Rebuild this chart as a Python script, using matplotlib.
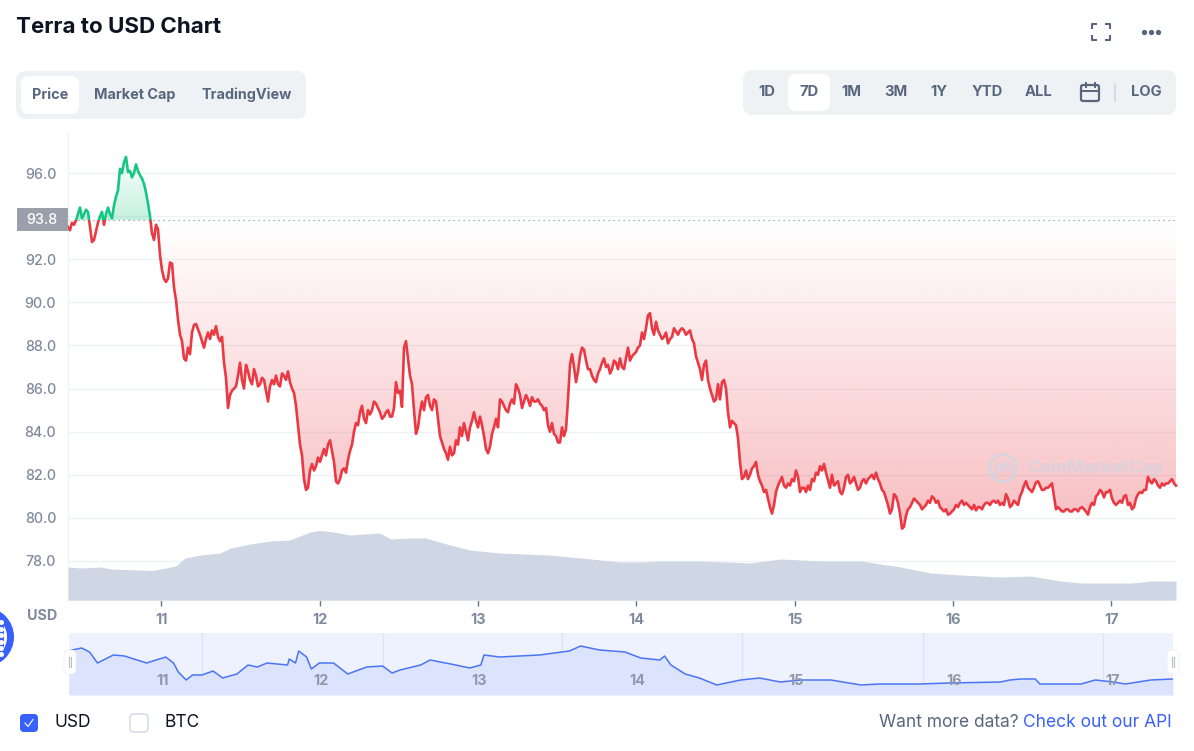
import matplotlib
matplotlib.use('Agg')
import matplotlib.pyplot as plt
import numpy as np
from matplotlib.patches import Circle, FancyBboxPatch, Rectangle

plt.rcParams['font.family'] = ['Inter', 'DejaVu Sans']

# Price, one value about every 18 minutes
price_vals = [
    93.5, 93.35, 93.7, 93.6, 93.8, 94.1, 94.4, 93.9, 94.1, 94.3, 94.2, 93.5, 92.8, 92.9, 93.3, 93.7, 94.0, 94.2, 93.6, 94.1,
    94.4, 94.1, 93.9, 94.5, 94.9, 95.2, 96.2, 96.0, 96.5, 96.75, 96.05, 96.1, 95.8, 96.0, 96.4, 96.1, 95.9, 95.75, 95.5, 95.1,
    94.6, 94.0, 93.2, 92.9, 93.6, 93.4, 92.2, 91.5, 91.1, 90.95, 91.1, 91.85, 91.8, 90.7, 90.1, 89.2, 88.5, 88.2, 87.4, 87.3,
    87.9, 87.6, 88.6, 88.95, 89.0, 88.75, 88.5, 88.2, 87.9, 88.3, 88.6, 88.3, 88.7, 88.5, 88.9, 88.4, 88.2, 88.4, 87.2, 86.5,
    85.1, 85.7, 85.9, 86.0, 86.1, 86.6, 87.2, 86.4, 86.0, 87.1, 86.8, 86.4, 86.2, 86.9, 86.6, 86.1, 86.2, 86.5, 86.4, 85.9,
    85.4, 86.1, 86.4, 86.2, 86.6, 86.2, 86.1, 86.7, 86.6, 86.4, 86.8, 86.3, 86.0, 85.8, 85.2, 84.3, 83.4, 82.9, 81.8, 81.3,
    81.4, 82.2, 82.5, 82.2, 82.4, 82.8, 82.6, 82.9, 83.2, 82.9, 83.4, 83.6, 83.1, 82.6, 81.7, 81.6, 81.8, 82.2, 82.3, 82.1,
    82.7, 83.1, 83.4, 84.0, 84.4, 84.3, 84.9, 85.2, 84.6, 84.4, 85.0, 84.8, 85.0, 85.4, 85.3, 85.1, 84.9, 84.6, 84.7, 84.9,
    85.0, 84.7, 84.7, 85.1, 86.3, 85.8, 85.9, 85.15, 87.9, 88.2, 87.4, 86.6, 86.2, 85.0, 83.9, 84.2, 84.9, 85.4, 85.0, 85.6,
    85.7, 85.2, 85.0, 85.5, 85.4, 84.6, 83.8, 83.5, 83.2, 83.0, 82.7, 83.3, 82.9, 83.0, 83.6, 83.4, 84.2, 83.8, 84.4, 84.0,
    83.6, 84.2, 84.5, 84.9, 84.5, 84.2, 84.7, 84.3, 83.8, 83.2, 83.0, 83.3, 83.9, 84.2, 84.6, 84.2, 85.5, 85.4, 85.2, 85.0,
    84.9, 85.3, 85.5, 85.3, 86.2, 86.0, 85.7, 85.1, 85.4, 85.7, 85.5, 85.2, 85.6, 85.4, 85.4, 85.5, 85.3, 85.2, 85.0, 85.1,
    84.3, 84.0, 84.4, 83.9, 83.8, 83.5, 83.5, 84.2, 83.8, 84.1, 85.5, 87.1, 87.6, 87.0, 86.3, 86.8, 87.5, 87.9, 87.8, 87.3,
    86.9, 86.9, 86.6, 86.4, 86.3, 86.7, 86.9, 87.2, 87.4, 87.0, 87.1, 86.7, 86.9, 87.3, 87.2, 86.9, 87.4, 87.0, 86.9, 87.4,
    87.9, 87.3, 87.5, 87.6, 87.7, 87.9, 88.0, 88.6, 88.3, 88.8, 89.4, 89.5, 88.8, 88.5, 89.1, 88.7, 88.5, 88.3, 88.4, 88.6,
    88.1, 88.3, 88.4, 88.8, 88.65, 88.5, 88.7, 88.8, 88.7, 88.5, 88.6, 88.7, 88.3, 88.1, 87.5, 87.2, 86.9, 86.4, 87.1, 87.3,
    86.4, 86.0, 85.7, 85.4, 85.5, 86.2, 85.5, 86.3, 86.4, 86.0, 84.9, 84.2, 84.5, 84.4, 84.3, 83.7, 82.6, 81.8, 81.9, 82.2,
    81.8, 82.0, 82.3, 82.4, 82.6, 82.0, 81.7, 81.5, 81.2, 81.3, 80.9, 80.5, 80.2, 80.6, 81.2, 81.5, 81.7, 81.9, 81.5, 81.4,
    81.6, 81.5, 81.8, 81.7, 82.2, 81.9, 81.2, 81.4, 81.4, 81.2, 81.5, 81.3, 81.8, 81.7, 82.1, 82.0, 82.4, 82.2, 82.5, 82.1,
    81.75, 81.4, 82.0, 81.5, 81.6, 81.7, 81.2, 81.1, 81.4, 81.9, 82.0, 81.6, 81.7, 81.9, 81.6, 81.3, 81.4, 81.7, 81.8, 81.6,
    81.8, 81.9, 82.0, 81.8, 82.1, 81.8, 81.6, 81.3, 81.2, 80.9, 80.6, 80.2, 80.4, 81.1, 81.0, 80.7, 80.2, 79.5, 79.6, 80.1,
    80.4, 80.5, 80.7, 80.9, 80.8, 80.7, 80.6, 80.4, 80.5, 80.6, 80.8, 80.7, 81.0, 80.9, 80.7, 80.8, 80.5, 80.4, 80.3, 80.4,
    80.15, 80.2, 80.3, 80.4, 80.6, 80.5, 80.7, 80.8, 80.6, 80.7, 80.6, 80.5, 80.4, 80.6, 80.35, 80.5, 80.5, 80.4, 80.6, 80.7,
    80.7, 80.6, 80.75, 80.8, 80.7, 80.8, 80.6, 80.7, 80.6, 81.1, 80.9, 80.5, 80.6, 80.8, 80.7, 80.6, 81.0, 81.2, 81.5, 81.7,
    81.4, 81.3, 81.2, 81.4, 81.65, 81.7, 81.5, 81.3, 81.3, 81.4, 81.4, 81.5, 81.6, 81.0, 80.4, 80.5, 80.4, 80.3, 80.3, 80.4,
    80.4, 80.3, 80.3, 80.4, 80.4, 80.3, 80.45, 80.5, 80.4, 80.3, 80.15, 80.5, 80.7, 80.6, 81.0, 81.1, 81.3, 81.2, 80.95, 81.2,
    81.2, 81.3, 80.9, 80.7, 80.6, 80.7, 80.8, 80.7, 81.0, 81.05, 80.6, 80.7, 80.4, 80.5, 80.9, 81.1, 81.2, 81.15, 81.3, 81.3,
    81.9, 81.7, 81.6, 81.8, 81.7, 81.5, 81.4, 81.6, 81.5, 81.6, 81.6, 81.7, 81.8, 81.6, 81.5,
]
base_price = 93.82

# Volume area (relative height)
vol_days = [10.41, 10.49, 10.62, 10.68, 10.87, 10.94, 11.03, 11.09, 11.15, 11.25,
            11.37, 11.44, 11.56, 11.69, 11.81, 11.94, 12.0, 12.09, 12.19, 12.38,
            12.45, 12.57, 12.67, 12.8, 12.95, 13.14, 13.45, 13.65, 13.9, 14.03,
            14.15, 14.4, 14.72, 14.91, 15.17, 15.42, 15.67, 15.86, 16.05, 16.3,
            16.49, 16.68, 16.81, 17.13, 17.25, 17.41]
vol_vals = [3.3, 3.2, 3.3, 3.1, 3.0, 2.95, 3.2, 3.4, 4.2, 4.5,
            4.7, 5.2, 5.6, 5.9, 6.0, 6.8, 6.95, 6.8, 6.5, 6.7,
            6.1, 6.2, 6.2, 5.6, 5.0, 4.7, 4.5, 4.2, 3.8, 3.8,
            3.9, 3.9, 3.7, 4.1, 3.9, 3.9, 3.3, 2.7, 2.5, 2.3,
            2.4, 1.9, 1.7, 1.7, 1.9, 1.9]

# Overview strip under the chart
mini_days = [10.42, 10.44, 10.50, 10.55, 10.60, 10.70, 10.77, 10.91, 11.03, 11.08, 11.11,
             11.16, 11.20, 11.26, 11.33, 11.39, 11.48, 11.55, 11.61, 11.67, 11.80,
             11.81, 11.85, 11.87, 11.92, 11.95, 12.00, 12.09, 12.18, 12.30, 12.40,
             12.46, 12.51, 12.64, 12.70, 12.83, 12.95, 13.02, 13.04, 13.14, 13.39,
             13.58, 13.65, 13.77, 13.93, 14.03, 14.15, 14.18, 14.22, 14.31, 14.40,
             14.51, 14.66, 14.78, 14.91, 15.04, 15.23, 15.42, 15.54, 15.79, 15.98,
             16.30, 16.36, 16.43, 16.52, 16.55, 16.81, 16.90, 17.01, 17.09, 17.25,
             17.39]
mini_vals = [44, 45, 47, 43, 32, 40, 39, 32, 38, 32, 23,
             15, 20, 20, 24, 17, 21, 30, 28, 32, 30,
             36, 32, 44, 38, 26, 32, 32, 21, 28, 29,
             22, 25, 30, 35, 31, 27, 30, 40, 38, 40,
             44, 49, 45, 43, 37, 35, 39, 30, 21, 17,
             10, 15, 17, 13, 15, 15, 10, 11, 11, 12,
             13, 15, 16, 16, 11, 11, 15, 13, 11, 15,
             16]

y_ticks = [78, 80, 82, 84, 86, 88, 90, 92, 94, 96]
y_labels = ['78.0', '80.0', '82.0', '84.0', '86.0', '88.0', '90.0', '92.0', '', '96.0']
day_ticks = [11, 12, 13, 14, 15, 16, 17]
range_buttons = ['1D', '7D', '1M', '3M', '1Y', 'YTD', 'ALL']
range_x = [767, 809, 851, 896, 939, 987, 1039]

RED = '#ea3943'
GREEN = '#16c784'
GRAY = '#808a9d'
SLATE = '#58667e'
BLUE = '#3861fb'
PILL = '#eff2f5'
GRID = '#eff2f5'

W, H = 1194, 751
X0, X1 = 10.41, 17.41
days = np.linspace(X0, X1, len(price_vals))
prices = np.array(price_vals)


def pos(x0, y0, x1, y1):
    return [x0 / W, (H - y1) / H, (x1 - x0) / W, (y1 - y0) / H]


def pill(ax, x0, y0, x1, y1, color, r=9, **kw):
    p = FancyBboxPatch((x0 + r, y0 + r), x1 - x0 - 2 * r, y1 - y0 - 2 * r,
                       boxstyle='round,pad=%d,rounding_size=%d' % (r, r),
                       facecolor=color, edgecolor=kw.pop('edgecolor', 'none'), **kw)
    ax.add_patch(p)


fig = plt.figure(figsize=(W / 100, H / 100), dpi=100)

# page furniture in pixel coordinates
ui = fig.add_axes([0, 0, 1, 1], zorder=0)
ui.set_xlim(0, W)
ui.set_ylim(H, 0)
ui.axis('off')

ui.text(16, 27, 'Terra to USD Chart', fontsize=16.1, fontweight='bold', color='#0d1421', va='center')

pill(ui, 16, 71, 306, 119, PILL, r=10)
pill(ui, 21, 76, 79, 114, 'white', r=8)
ui.text(50, 95, 'Price', fontsize=10.4, fontweight='bold', color=SLATE, ha='center', va='center')
ui.text(135, 95, 'Market Cap', fontsize=10.4, fontweight='bold', color=SLATE, ha='center', va='center')
ui.text(246.5, 95, 'TradingView', fontsize=10.4, fontweight='bold', color=SLATE, ha='center', va='center')

pill(ui, 743, 70, 1176, 115, PILL, r=10)
pill(ui, 788, 74, 830, 111, 'white', r=8)
for label, x in zip(range_buttons, range_x):
    ui.text(x, 92.5, label, fontsize=10.6, fontweight='bold', color=SLATE, ha='center', va='center')
ui.text(1146, 91.5, 'LOG', fontsize=10.6, fontweight='bold', color=SLATE, ha='center', va='center')
ui.plot([1115, 1115], [84, 101], color='#cfd6e4', lw=1.2)

# calendar icon
pill(ui, 1081, 85, 1099, 101, 'none', r=2, edgecolor=SLATE, linewidth=1.6)
ui.plot([1081, 1099], [90.5, 90.5], color=SLATE, lw=1.4)
ui.plot([1085.5, 1085.5], [83, 87], color=SLATE, lw=1.4)
ui.plot([1094.5, 1094.5], [83, 87], color=SLATE, lw=1.4)

# fullscreen icon and menu dots
for sx, sy in [(1092, 24), (1110, 24), (1092, 40), (1110, 40)]:
    dx = 4 if sx < 1100 else -4
    dy = 4 if sy < 30 else -4
    ui.plot([sx + dx, sx, sx], [sy, sy, sy + dy], color=SLATE, lw=1.5)
ui.plot([1143.5, 1150.5, 1157.5], [32, 32, 32], ls='none', marker='o', ms=2.8, color=SLATE)

# tag, y unit
ui.add_patch(Rectangle((17, 208), 51, 23, facecolor='#9a9fab', edgecolor='none'))
ui.text(42, 219.5, '93.8', fontsize=10.3, fontweight='medium', color='white', ha='center', va='center')
ui.text(42, 616.5, 'USD', fontsize=10.3, fontweight='bold', color=GRAY, ha='center', va='center')

# round logo cut off by the page edge
ui.add_patch(Circle((-16, 637), 30, facecolor=BLUE, edgecolor='none'))
ui.add_patch(Circle((-16, 637), 23, facecolor='white', edgecolor='none'))
ui.add_patch(Rectangle((-3, 618), 6.5, 38, facecolor=BLUE, edgecolor='none'))
ui.plot([0.5] * 6, [622, 628.5, 635, 641.5, 648, 654], ls='none', marker='o', ms=2.6, color='white')

# legend and API link
pill(ui, 20, 714, 38, 732, BLUE, r=4)
ui.plot([25, 28, 33], [723, 726.5, 719.5], color='white', lw=0.8)
ui.text(55, 722.5, 'USD', fontsize=12.5, color='#0d1421', va='center')
pill(ui, 130, 714, 148, 732, 'white', r=4, edgecolor='#cfd6e4', linewidth=1)
ui.text(164, 722.5, 'BTC', fontsize=12.5, color='#0d1421', va='center')
ui.text(1172, 722.5, 'Check out our API', fontsize=12.55, color=BLUE, ha='right', va='center')
ui.text(1019, 722.5, 'Want more data?', fontsize=12.55, color=SLATE, ha='right', va='center')

# main chart
ax = fig.add_axes(pos(68, 133, 1176, 600), zorder=1)
ax.patch.set_alpha(0)

ax.set_yticks(y_ticks)
ax.set_yticklabels(y_labels, fontsize=10.3, color=GRAY, fontweight='medium')
ax.set_xticks(day_ticks)
ax.set_xticklabels([str(d) for d in day_ticks], fontsize=10.3, color=GRAY, fontweight='bold')
ax.tick_params(axis='y', length=0, pad=8.5)
ax.tick_params(axis='x', length=4, width=1, color='#6b7488', pad=5)
ax.grid(axis='y', color=GRID, lw=1)
ax.set_axisbelow(True)
for side in ['top', 'right']:
    ax.spines[side].set_visible(False)
ax.spines['left'].set_color(GRID)
ax.spines['bottom'].set_color(GRID)

# gradients under and over the baseline
red_grad = np.zeros((256, 1, 4))
red_grad[..., :3] = matplotlib.colors.to_rgb(RED)
red_grad[:, 0, 3] = np.linspace(0, 0.33, 256)
red_fill = ax.fill_between(days, np.minimum(prices, base_price), base_price, facecolor='none', edgecolor='none')
im = ax.imshow(red_grad, extent=[X0, X1, 79.5, base_price], origin='upper', aspect='auto', zorder=1.5)
im.set_clip_path(red_fill.get_paths()[0], ax.transData)

green_grad = np.zeros((256, 1, 4))
green_grad[..., :3] = matplotlib.colors.to_rgb(GREEN)
green_grad[:, 0, 3] = np.linspace(0.26, 0, 256)
green_fill = ax.fill_between(days, np.maximum(prices, base_price), base_price, facecolor='none', edgecolor='none')
im2 = ax.imshow(green_grad, extent=[X0, X1, base_price, 96.8], origin='lower', aspect='auto', zorder=1.5)
im2.set_clip_path(green_fill.get_paths()[0], ax.transData)
ax.set_xlim(X0, X1)
ax.set_ylim(76.19, 97.86)

ax.axhline(base_price, color='#8f96a3', lw=0.9, ls=(0, (1, 3)), zorder=2)

red_line, = ax.plot(days, prices, color=RED, lw=1.9, zorder=3, solid_joinstyle='round')
red_line.set_clip_path(Rectangle((X0, 70), 7.1, base_price - 70, transform=ax.transData))
green_line, = ax.plot(days, prices, color=GREEN, lw=1.9, zorder=3, solid_joinstyle='round')
green_line.set_clip_path(Rectangle((X0, base_price), 7.1, 10, transform=ax.transData))

# volume, on top so it hides the grid
vol_ax = fig.add_axes(pos(68, 133, 1176, 600), zorder=2)
vol_ax.patch.set_alpha(0)
vol_ax.set_xlim(X0, X1)
vol_ax.set_ylim(0, 46.7)
vol_ax.axis('off')
vol_ax.fill_between(vol_days, vol_vals, 0, color='#cfd6e4', lw=0)

# overview strip
mini = fig.add_axes(pos(69, 633, 1173, 695), zorder=1)
mini.set_facecolor('#eef2fe')
mini.set_xlim(10.42, 17.39)
mini.set_ylim(0, 62)
mini.fill_between(mini_days, mini_vals, 0, color='#dce3fc', lw=0)
mini.plot(mini_days, mini_vals, color='#4a74f5', lw=1.1)
for d in [11.26, 12.40, 13.53, 14.67, 15.81, 16.95]:
    mini.axvline(d, color='#dde3f5', lw=1, zorder=0.5)
for d in day_ticks:
    mini.text(d + 0.01, 14, str(d), fontsize=10.3, fontweight='bold', color='#8f98aa', ha='center', va='center')
mini.set_xticks([])
mini.set_yticks([])
for s in mini.spines.values():
    s.set_visible(False)

# handles
over = fig.add_axes([0, 0, 1, 1], zorder=3)
over.set_xlim(0, W)
over.set_ylim(H, 0)
over.axis('off')
pill(over, 64, 650, 76, 674, 'white', r=5, edgecolor='#eef0f4', linewidth=0.6)
over.plot([68.5, 68.5], [657, 667], color='#b8bec9', lw=0.8)
over.plot([71, 71], [657, 667], color='#b8bec9', lw=0.8)
pill(over, 1167, 650, 1179, 674, 'white', r=5, edgecolor='#eef0f4', linewidth=0.6)
over.plot([1171.5, 1171.5], [657, 667], color='#b8bec9', lw=0.8)
over.plot([1174, 1174], [657, 667], color='#b8bec9', lw=0.8)

# watermark
over.add_patch(Circle((1003, 468), 13.5, facecolor='none', edgecolor='#cfd6e4', lw=2.2, alpha=0.75))
over.plot([994, 999, 1003, 1007, 1012], [476, 462, 472, 462, 472], color='#cfd6e4', lw=2, alpha=0.75)
over.text(1027, 468.5, 'CoinMarketCap', fontsize=12.8, fontweight='bold', color='#cfd6e4', alpha=0.75, va='center')

plt.savefig('out.png', dpi=100)
